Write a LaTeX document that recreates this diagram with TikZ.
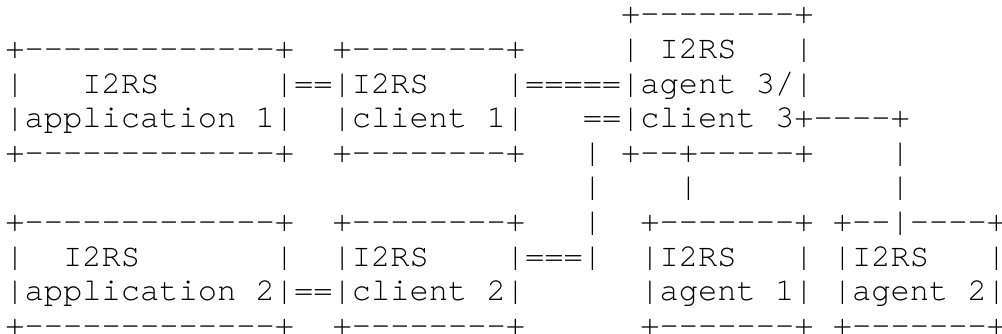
\documentclass[tikz,border=0pt]{standalone}
\usepackage{fontspec}
\setmonofont{TeX Gyre Cursor}
\tikzset{
  txtrow/.style = {anchor=base west, inner sep=0pt, outer sep=0pt,
    font=\ttfamily\fontsize{12.83pt}{13.84pt}\selectfont}
}
\begin{document}
\begin{tikzpicture}
\useasboundingbox (0,0) rectangle (400.8pt,-133.6pt);
% one node per line of the figure
\node[txtrow] (r1) at (2.16pt,-9.52pt) {~~~~~~~~~~~~~~~~~~~~~~~~~~~~~~~~+--------+};
\node[txtrow] (r2) at (2.16pt,-23.36pt) {+-------------+~~+--------+~~~~~|~I2RS~~~|};
\node[txtrow] (r3) at (2.16pt,-37.20pt) {|~~~I2RS~~~~~~|==|I2RS~~~~|=====|agent~3/|};
\node[txtrow] (r4) at (2.16pt,-51.04pt) {|application~1|~~|client~1|~~~==|client~3+----+};
\node[txtrow] (r5) at (2.16pt,-64.88pt) {+-------------+~~+--------+~~~|~+--+-----+~~~~|};
\node[txtrow] (r6) at (2.16pt,-78.72pt) {~~~~~~~~~~~~~~~~~~~~~~~~~~~~~~|~~~~|~~~~~~~~~~|};
\node[txtrow] (r7) at (2.16pt,-92.56pt) {+-------------+~~+--------+~~~|~~+-------+~+--|----+};
\node[txtrow] (r8) at (2.16pt,-106.40pt) {|~~I2RS~~~~~~~|~~|I2RS~~~~|===|~~|I2RS~~~|~|I2RS~~~|};
\node[txtrow] (r9) at (2.16pt,-120.24pt) {|application~2|==|client~2|~~~~~~|agent~1|~|agent~2|};
\node[txtrow] (r10) at (2.16pt,-134.08pt) {+-------------+~~+--------+~~~~~~+-------+~+-------+};
\end{tikzpicture}
\end{document}
